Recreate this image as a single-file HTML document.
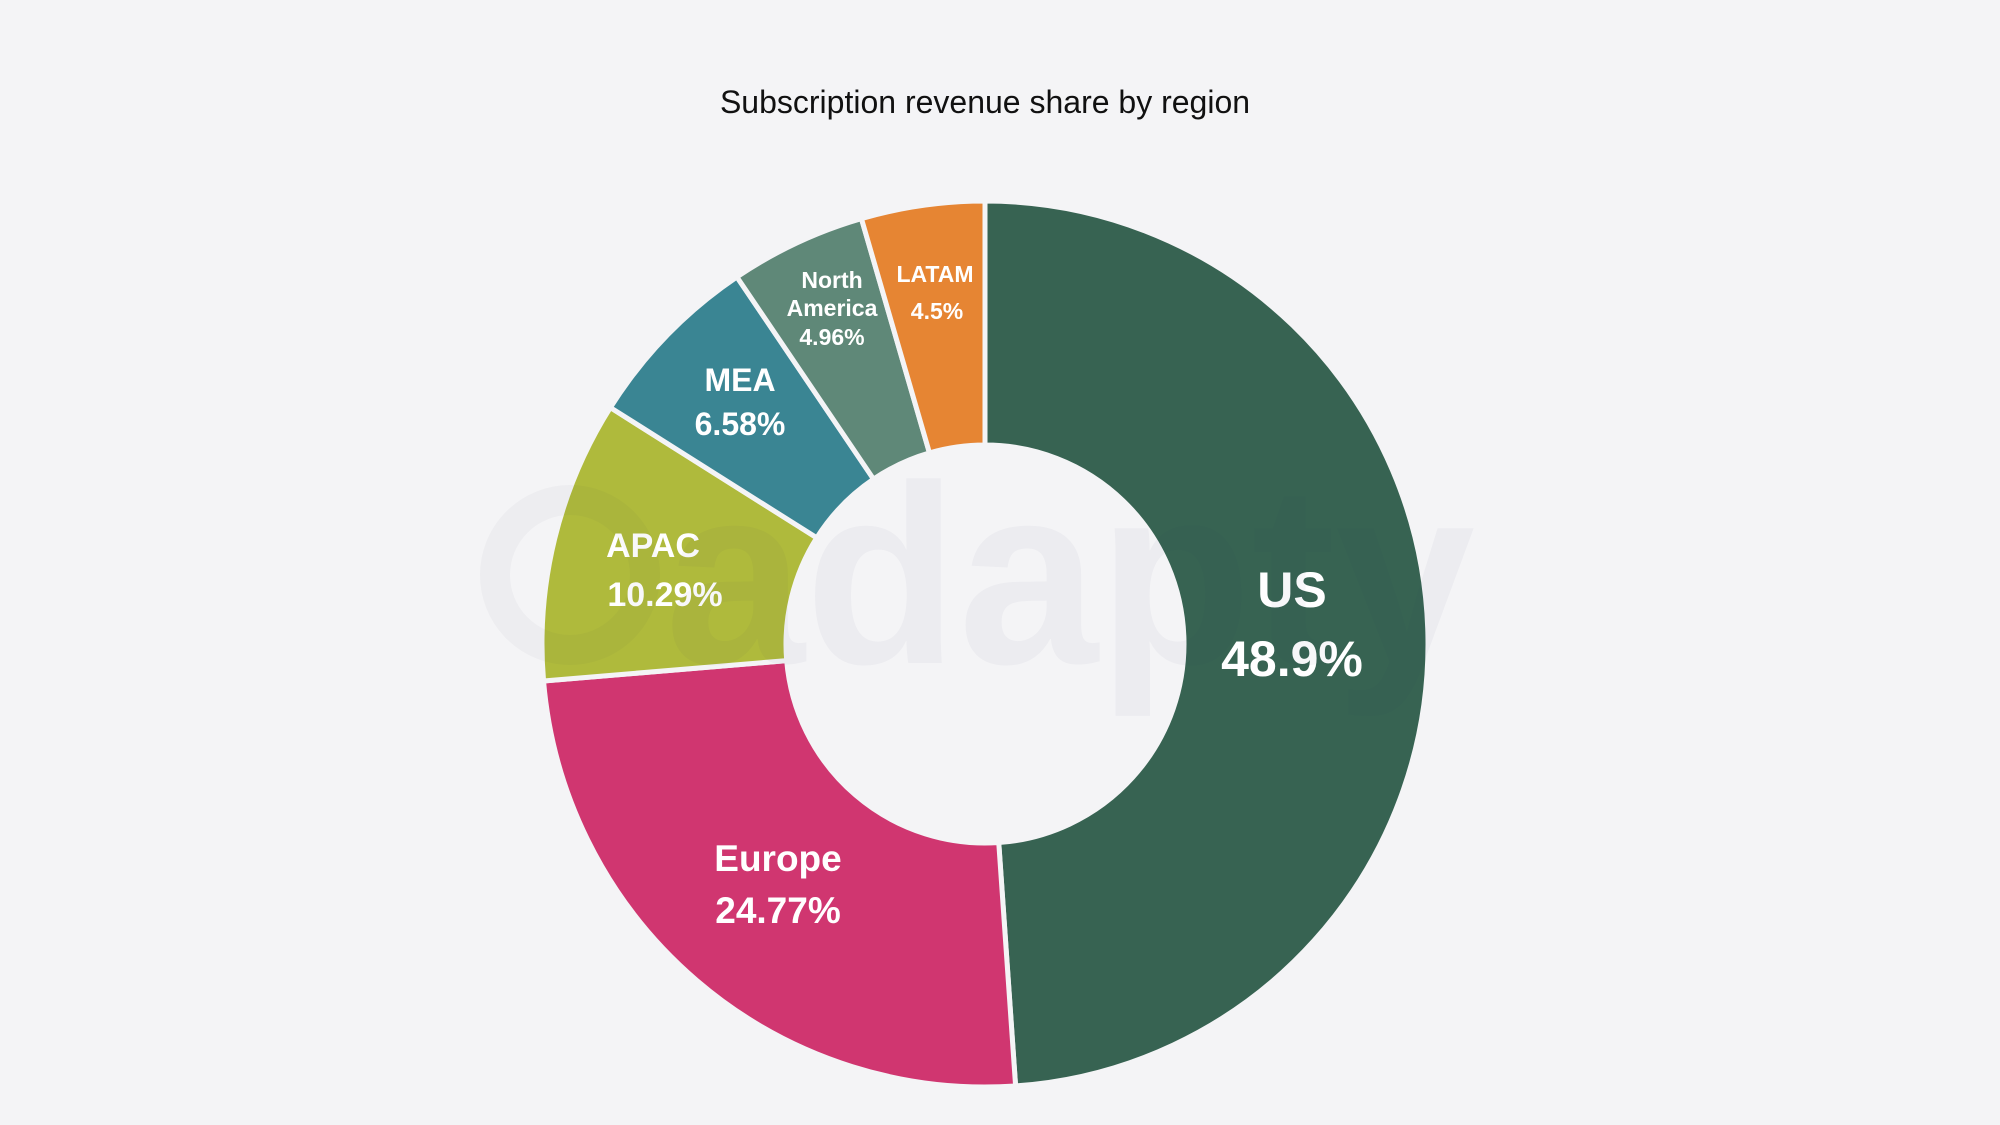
<!DOCTYPE html>
<html><head><meta charset="utf-8"><style>
html,body{margin:0;padding:0;background:#f4f4f6;}
svg{display:block;}
text{font-family:"Liberation Sans",sans-serif;}
</style></head><body>
<svg id="s" width="2000" height="1125" viewBox="0 0 2000 1125">
<rect width="2000" height="1125" fill="#f4f4f6"/>
<text x="985" y="113" text-anchor="middle" font-size="32" fill="#111">Subscription revenue share by region</text>
<g id="segs"></g>
<g fill="#fff" font-weight="bold" text-anchor="middle">
<text x="1292" y="607" font-size="50">US</text>
<text x="1292" y="676" font-size="50">48.9%</text>
<text x="778" y="871" font-size="37">Europe</text>
<text x="778" y="923" font-size="37">24.77%</text>
<text x="653" y="557" font-size="34">APAC</text>
<text x="665" y="606" font-size="34">10.29%</text>
<text x="740" y="391" font-size="32">MEA</text>
<text x="740" y="435" font-size="32">6.58%</text>
<text x="832" y="288" font-size="23">North</text>
<text x="832" y="316" font-size="23">America</text>
<text x="832" y="345" font-size="23">4.96%</text>
<text x="935" y="282" font-size="23">LATAM</text>
<text x="937" y="319" font-size="23">4.5%</text>
</g>
<circle cx="570" cy="575" r="75" fill="none" stroke="rgba(60,60,90,0.035)" stroke-width="30"/>
<text x="665" y="663" font-size="255" font-weight="bold" fill="rgba(60,60,90,0.04)" textLength="810" lengthAdjust="spacingAndGlyphs">adapty</text>
</svg>
<script>
var cx=985,cy=644,R=443,r=199;
var data=[[48.9,"#376352"],[24.77,"#d03670"],[10.29,"#afba3c"],[6.58,"#3a8593"],[4.96,"#5f8878"],[4.5,"#e68533"]];
var g=document.getElementById("segs"),a=0,tot=0;data.forEach(function(d){tot+=d[0]});
function pt(rad,ang){var t=ang*Math.PI/180;return [cx+rad*Math.sin(t),cy-rad*Math.cos(t)];}
data.forEach(function(d){
 var a2=a+d[0]/tot*360,lg=(a2-a)>180?1:0;
 var p1=pt(R,a),p2=pt(R,a2),p3=pt(r,a2),p4=pt(r,a);
 var s="M"+p1+" A"+R+" "+R+" 0 "+lg+" 1 "+p2+" L"+p3+" A"+r+" "+r+" 0 "+lg+" 0 "+p4+" Z";
 var e=document.createElementNS("http://www.w3.org/2000/svg","path");
 e.setAttribute("d",s);e.setAttribute("fill",d[1]);e.setAttribute("stroke","#f4f4f6");
 e.setAttribute("stroke-width","5");e.setAttribute("stroke-linejoin","round");
 g.appendChild(e);a=a2;});
</script>
</body></html>
